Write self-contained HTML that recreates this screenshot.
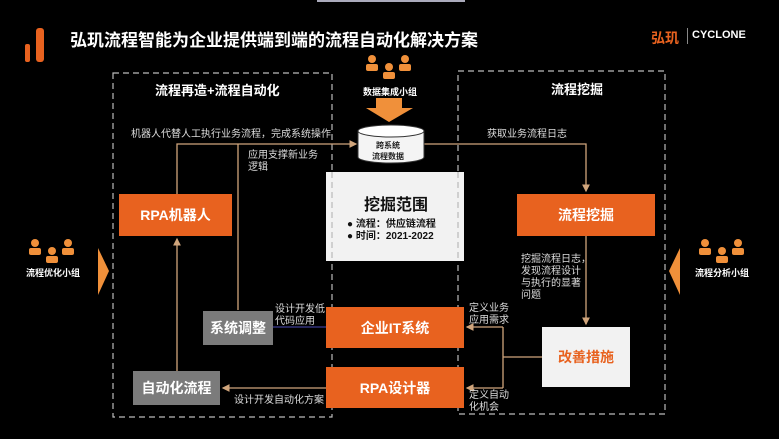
<!DOCTYPE html>
<html><head><meta charset="utf-8"><style>
body{margin:0;width:779px;height:439px;background:#000;overflow:hidden;position:relative;font-family:"Liberation Sans","Noto Sans CJK SC",sans-serif;color:#fff}
.a{position:absolute;white-space:nowrap}
.box{position:absolute;display:flex;align-items:center;justify-content:center;font-weight:bold;font-size:14px}
.or{background:#e8621f;color:#fff}
.gr{background:#7b7b7b;color:#fff}
.t{font-size:10px;color:#ddd;line-height:12px}
</style></head><body>
<div class="a" style="left:317px;top:0;width:148px;height:2px;background:#aab"></div>
<div class="a" style="left:25px;top:44px;width:5px;height:18px;background:#e8621f;border-radius:2px"></div>
<div class="a" style="left:36px;top:28px;width:8px;height:34px;background:#e8621f;border-radius:3px"></div>
<div class="a" style="left:70px;top:26px;font-size:17px;font-weight:bold">弘玑流程智能为企业提供端到端的流程自动化解决方案</div>
<div class="a" style="left:651px;top:28px;font-size:14px;font-weight:bold;color:#e8621f">弘玑</div>
<div class="a" style="left:687px;top:28px;width:1px;height:16px;background:#888"></div>
<div class="a" style="left:692px;top:29px;font-size:11px;font-weight:bold">CYCLONE</div>

<svg class="a" style="left:0;top:0" width="779" height="439">
<defs><marker id="m" markerWidth="6" markerHeight="6" refX="5" refY="3" orient="auto"><path d="M0,0L6,3L0,6z" fill="#d0a57c"/></marker></defs>
<g fill="none" stroke="#bbb" stroke-width="1.2" stroke-dasharray="6,4">
<rect x="113" y="73" width="219" height="344"/>
<rect x="458" y="71" width="207" height="343"/>
</g>
<g fill="none" stroke="#d0a57c" stroke-width="1.3">
<path d="M177,194V144H356" marker-end="url(#m)"/>
<path d="M238,144V310"/>
<path d="M424,144H586V191" marker-end="url(#m)"/>
<path d="M586,236V324" marker-end="url(#m)"/>
<path d="M542,357H503"/>
<path d="M503,327V388"/>
<path d="M503,327H467" marker-end="url(#m)"/>
<path d="M503,388H467" marker-end="url(#m)"/>
<path d="M326,388H223" marker-end="url(#m)"/>
<path d="M177,371V239" marker-end="url(#m)"/>
</g>
<path d="M273,327H326" stroke="#33337a" stroke-width="1.5"/>
<!-- people top -->
<g fill="#f0903a">
<circle cx="372" cy="59" r="4"/><rect x="366" y="64" width="12" height="7" rx="2"/>
<circle cx="405" cy="59" r="4"/><rect x="399" y="64" width="12" height="7" rx="2"/>
<circle cx="389" cy="67" r="4"/><rect x="383" y="72" width="12" height="7" rx="2"/>
<path d="M376,98H402V108H413L389,122L366,108H376z"/>
<circle cx="35" cy="243" r="4"/><rect x="29" y="248" width="12" height="7" rx="2"/>
<circle cx="68" cy="243" r="4"/><rect x="62" y="248" width="12" height="7" rx="2"/>
<circle cx="52" cy="251" r="4"/><rect x="46" y="256" width="12" height="7" rx="2"/>
<path d="M98,248L109,271L98,295z"/>
<circle cx="705" cy="243" r="4"/><rect x="699" y="248" width="12" height="7" rx="2"/>
<circle cx="738" cy="243" r="4"/><rect x="732" y="248" width="12" height="7" rx="2"/>
<circle cx="722" cy="251" r="4"/><rect x="716" y="256" width="12" height="7" rx="2"/>
<path d="M680,248L669,271L680,295z"/>
</g>
<path d="M358,131V157A33,6 0 0 0 424,157V131" fill="#f4f4f4" stroke="#333"/>
<ellipse cx="391" cy="131" rx="33" ry="6" fill="#fff" stroke="#333"/>
</svg>
<div class="a" style="left:363px;top:85px;font-size:9px;font-weight:bold">数据集成小组</div>
<div class="a" style="left:372px;top:140px;font-size:8px;color:#222;font-weight:bold;text-align:center;line-height:11px">跨系统<br>流程数据</div>

<div class="a" style="left:155px;top:80px;font-size:13px;font-weight:bold">流程再造+流程自动化</div>
<div class="a" style="left:551px;top:79px;font-size:13px;font-weight:bold">流程挖掘</div>
<div class="a t" style="left:131px;top:129px">机器人代替人工执行业务流程，完成系统操作</div>
<div class="a t" style="left:487px;top:129px">获取业务流程日志</div>
<div class="a t" style="left:248px;top:150px">应用支撑新业务<br>逻辑</div>

<div class="box" style="left:326px;top:172px;width:138px;height:89px;background:#f2f2f2;color:#111;flex-direction:column;align-items:flex-start">
<div style="font-size:16px;margin-left:38px;margin-bottom:4px">挖掘范围</div>
<div style="font-size:10px;margin-left:21px;line-height:12px">● 流程：供应链流程<br>● 时间：2021-2022</div></div>
<svg class="a" style="left:0;top:0" width="779" height="439"><g stroke="#bbb" stroke-dasharray="6,4" stroke-width="1.2"><path d="M332,172V261M458,172V261"/></g></svg>

<div class="box or" style="left:119px;top:194px;width:113px;height:42px">RPA机器人</div>
<div class="box or" style="left:517px;top:194px;width:138px;height:42px">流程挖掘</div>
<div class="a" style="left:26px;top:266px;font-size:9px;font-weight:bold">流程优化小组</div>
<div class="a" style="left:695px;top:266px;font-size:9px;font-weight:bold">流程分析小组</div>
<div class="a t" style="left:521px;top:254px">挖掘流程日志，<br>发现流程设计<br>与执行的显著<br>问题</div>
<div class="box gr" style="left:203px;top:311px;width:70px;height:34px">系统调整</div>
<div class="a t" style="left:275px;top:304px">设计开发低<br>代码应用</div>
<div class="box or" style="left:326px;top:307px;width:138px;height:41px">企业IT系统</div>
<div class="a t" style="left:469px;top:303px">定义业务<br>应用需求</div>
<div class="box" style="left:542px;top:327px;width:88px;height:60px;background:#f2f2f2;color:#e8621f">改善措施</div>
<div class="box or" style="left:326px;top:367px;width:138px;height:41px">RPA设计器</div>
<div class="a t" style="left:469px;top:390px">定义自动<br>化机会</div>
<div class="box gr" style="left:133px;top:371px;width:87px;height:34px">自动化流程</div>
<div class="a t" style="left:234px;top:395px">设计开发自动化方案</div>
</body></html>
